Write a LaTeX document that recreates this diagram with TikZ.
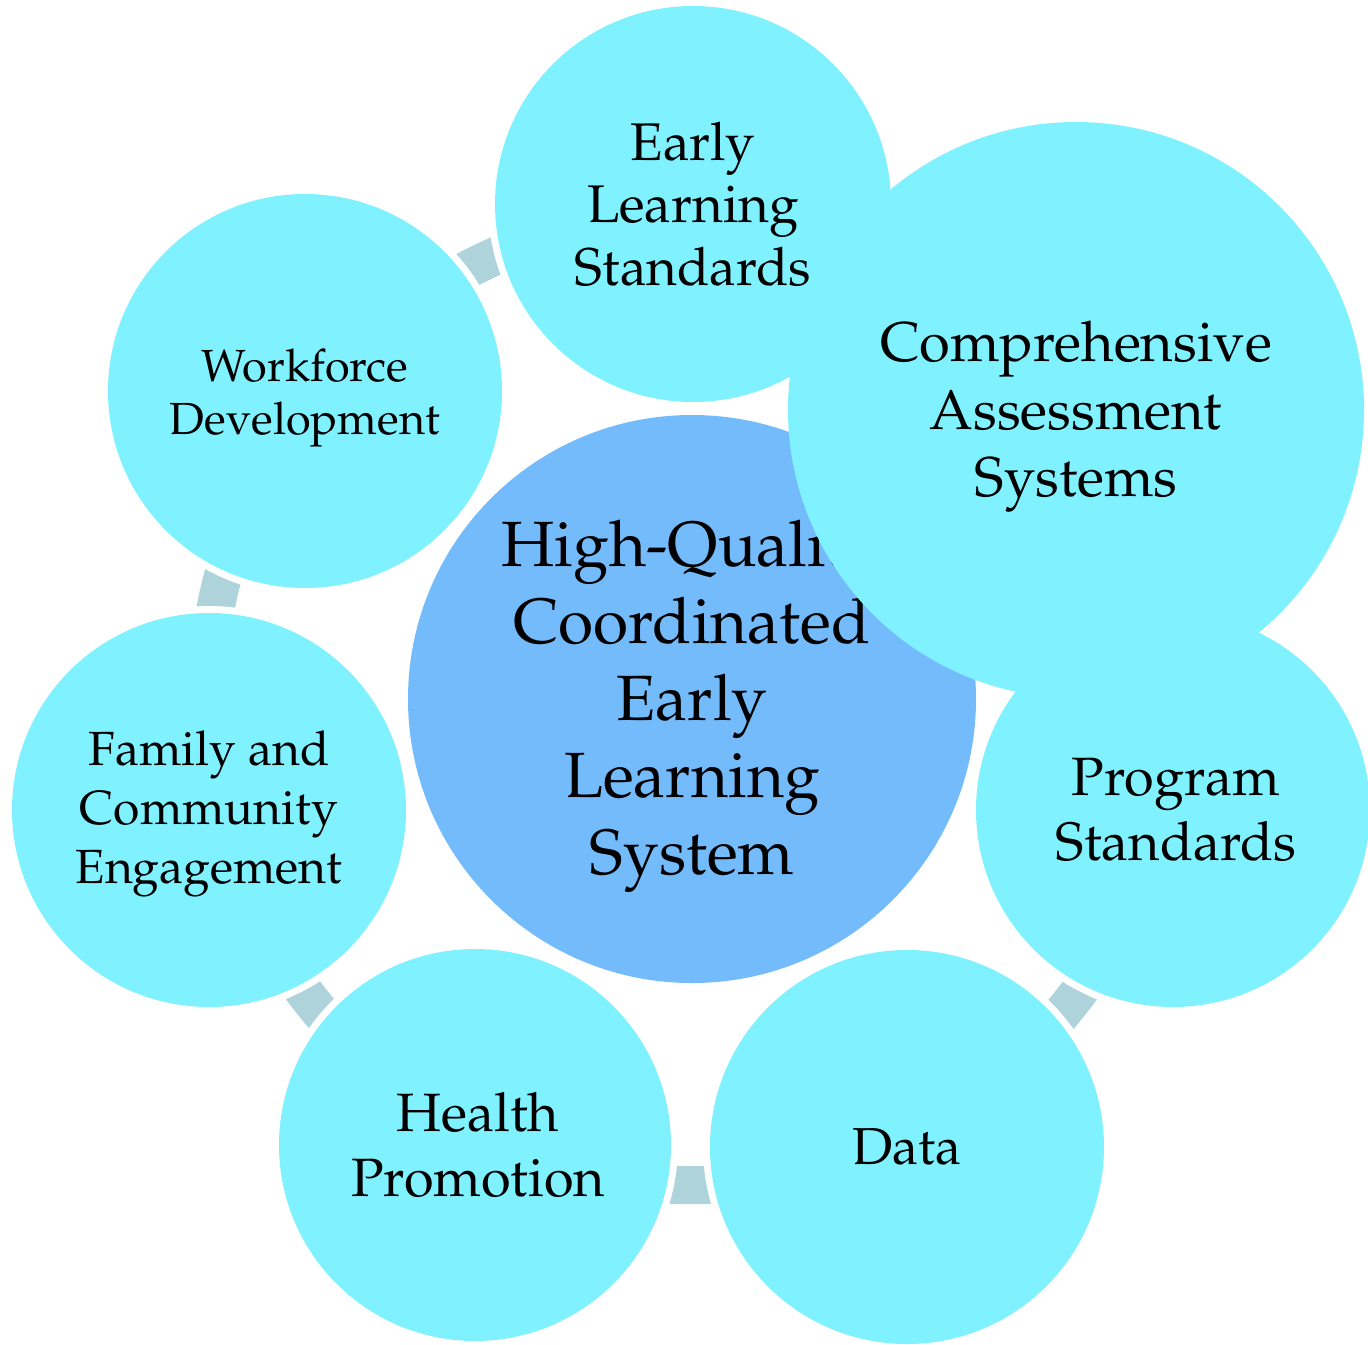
\documentclass[tikz,border=0pt]{standalone}
\IfFileExists{t1ppl.fd}{\usepackage[T1]{fontenc}\renewcommand{\rmdefault}{ppl}}{\usepackage{fontspec}\setmainfont{Liberation Serif}}
\definecolor{ringc}{RGB}{128,242,255}
\definecolor{hubc}{RGB}{116,187,252}
\definecolor{linkc}{RGB}{174,211,219}
\pgfdeclarelayer{bg}
\pgfdeclarelayer{halo}
\pgfsetlayers{bg,halo,main}
\tikzset{
  ringnode/.style={circle, fill=ringc, inner sep=0pt},
  hubnode/.style={circle, fill=hubc, inner sep=0pt},
  txt/.style={align=center, text=black, inner sep=0pt},
  link/.style={draw=linkc, line width=38pt},
  halofill/.style={fill=white}
}
\newcommand{\fs}[2]{\fontsize{#1}{#2}\selectfont}
\begin{document}
\begin{tikzpicture}[x=1pt,y=-1pt]
\useasboundingbox (0,0) rectangle (1368,1344);
% ring nodes
\node[ringnode, minimum size=396,
  label={[txt, font=\fs{53}{62.5}]center:Early\\Learning\\Standards}] (els) at (693,204) {};
\node[ringnode, minimum size=394,
  label={[txt, font=\fs{45}{53}, yshift=-7]center:Workforce\\Development}] (wf) at (305,391) {};
\node[ringnode, minimum size=394,
  label={[txt, font=\fs{48}{59}, yshift=-4]center:Family and\\Community\\Engagement}] (fam) at (209,810) {};
\node[ringnode, minimum size=392,
  label={[txt, font=\fs{54}{65}, xshift=3]center:Health\\Promotion}] (hp) at (475,1145) {};
\node[ringnode, minimum size=394,
  label={[txt, font=\fs{52}{62}]center:Data}] (data) at (907,1147) {};
\node[hubnode, minimum size=568,
  label={[txt, font=\fs{64}{77}, yshift=-7]center:High-Quality\\Coordinated\\Early\\Learning\\System}] (hub) at (692,699) {};
\node[ringnode, minimum size=394,
  label={[txt, font=\fs{54}{65}, xshift=3]center:Program\\Standards}] (prog) at (1173,810) {};
\node[ringnode, minimum size=576,
  label={[txt, font=\fs{56}{67.5}, yshift=-7]center:Comprehensive\\Assessment\\Systems}] (cas) at (1076,410) {};
% white halos
\begin{pgfonlayer}{halo}
\foreach \n/\r in {els/205, wf/204, fam/204, hp/203, data/204, hub/291, prog/204, cas/295}
  \fill[halofill] (\n.center) circle[radius=\r];
\end{pgfonlayer}
% connectors
\begin{pgfonlayer}{bg}
\draw[link] (els.center) to[bend right=18] (wf.center);
\draw[link] (wf.center) to[bend right=18] (fam.center);
\draw[link] (fam.center) to[bend right=18] (hp.center);
\draw[link] (hp.center) to[bend right=18] (data.center);
\draw[link] (data.center) to[bend right=18] (prog.center);
\end{pgfonlayer}
\end{tikzpicture}
\end{document}
